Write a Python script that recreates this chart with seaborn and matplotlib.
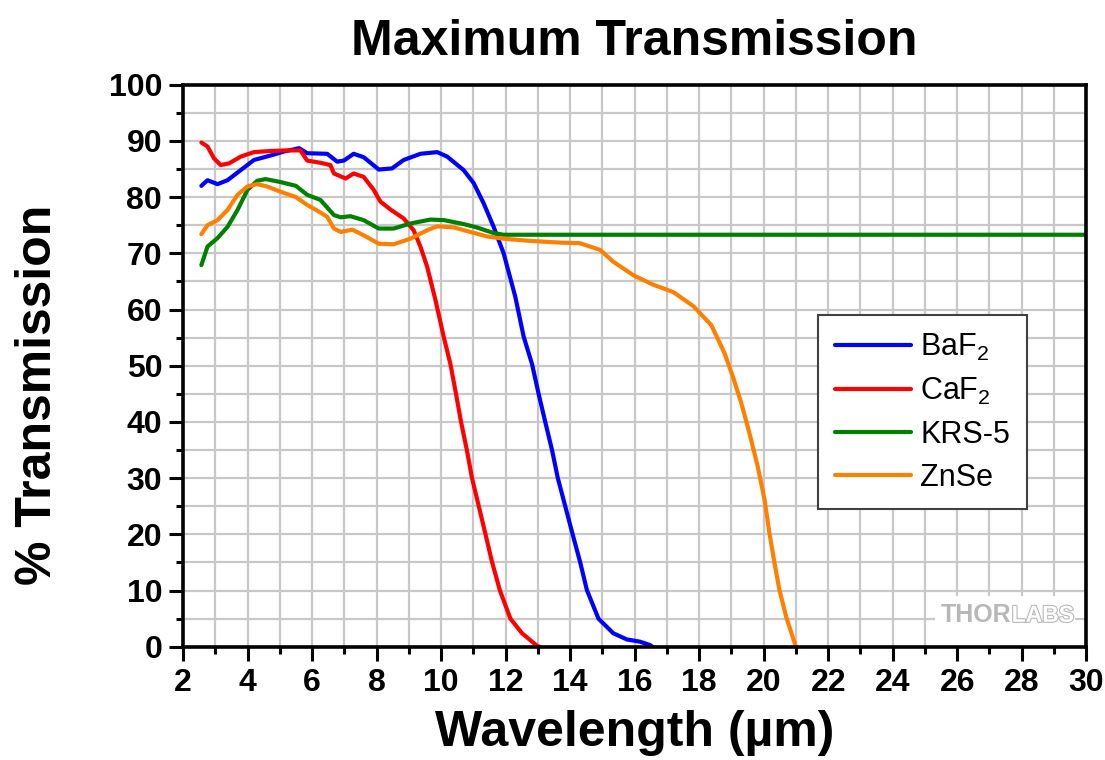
import numpy as np
import pandas as pd
import matplotlib
matplotlib.use("Agg")
import matplotlib.pyplot as plt
import matplotlib.patheffects as pe
from matplotlib.patches import Rectangle
from matplotlib.ticker import MultipleLocator
import seaborn as sns

# ---------------- data ----------------
baf2_x = [2.57, 2.76, 3.07, 3.38, 3.79, 4.20, 4.72, 5.13, 5.60, 5.85, 6.47, 6.78, 6.99, 7.29,
          7.60, 8.07, 8.48, 8.84, 9.36, 9.88, 10.19, 10.70, 11.01, 11.32, 11.63, 11.94, 12.30,
          12.56, 12.82, 13.02, 13.23, 13.44, 13.62, 13.85, 14.07, 14.31, 14.52, 14.88, 15.34,
          15.76, 16.17, 16.48, 16.55]
baf2_y = [82.0, 83.0, 82.3, 83.0, 84.8, 86.6, 87.4, 88.1, 88.7, 87.8, 87.7, 86.3, 86.5, 87.7,
          87.1, 84.9, 85.1, 86.6, 87.7, 88.0, 87.2, 84.8, 82.5, 78.9, 74.7, 70.0, 62.3,
          55.2, 50.3, 45.1, 40.0, 35.0, 30.0, 25.0, 20.2, 15.1, 10.1, 5.0, 2.4,
          1.3, 0.9, 0.3, 0.0]

caf2_x = [2.57, 2.76, 2.96, 3.17, 3.43, 3.79, 4.20, 4.72, 5.20, 5.64, 5.85, 6.26, 6.57, 6.68,
          7.04, 7.29, 7.60, 7.91, 8.12, 8.43, 8.84, 9.15, 9.36, 9.57, 9.83, 10.08, 10.29, 10.46,
          10.62, 10.80, 10.96, 11.17, 11.37, 11.58, 11.82, 12.15, 12.51, 12.97, 13.05]
caf2_y = [89.7, 89.0, 86.9, 85.7, 86.0, 87.2, 88.0, 88.2, 88.3, 88.3, 86.5, 86.1, 85.7, 84.2,
          83.3, 84.2, 83.6, 81.3, 79.2, 77.8, 76.2, 74.1, 71.2, 67.6, 61.6, 55.2, 50.3, 45.1,
          40.0, 35.0, 30.0, 25.0, 20.2, 15.1, 10.1, 5.0, 2.4, 0.2, 0.0]

krs5_x = [2.57, 2.76, 3.07, 3.38, 3.69, 4.00, 4.30, 4.56, 5.00, 5.50, 5.85, 6.26, 6.68, 6.89,
          7.19, 7.60, 8.07, 8.53, 9.05, 9.67, 10.09, 10.70, 11.11, 11.63, 11.94, 12.77, 20.0, 30.0]
krs5_y = [67.9, 71.2, 72.7, 74.7, 77.7, 81.3, 82.9, 83.2, 82.7, 82.0, 80.4, 79.5, 76.8, 76.4,
          76.6, 75.9, 74.4, 74.4, 75.3, 76.0, 75.9, 75.2, 74.6, 73.6, 73.3, 73.3, 73.3, 73.3]

znse_x = [2.57, 2.76, 3.07, 3.38, 3.69, 4.00, 4.30, 4.60, 5.00, 5.50, 5.85, 6.16, 6.47, 6.68,
          6.89, 7.25, 7.60, 8.07, 8.53, 9.05, 9.57, 9.88, 10.40, 10.91, 11.42, 11.94, 12.77,
          13.69, 14.30, 14.62, 14.93, 15.34, 15.96, 16.58, 17.20, 17.82, 18.38, 18.79, 19.05,
          19.31, 19.56, 19.82, 20.03, 20.18, 20.34, 20.49, 20.70, 21.00]
znse_y = [73.4, 75.0, 75.9, 77.7, 80.4, 81.9, 82.3, 81.9, 81.0, 80.0, 78.6, 77.6, 76.5, 74.4,
          73.8, 74.2, 73.2, 71.7, 71.6, 72.6, 74.1, 74.8, 74.6, 73.8, 73.0, 72.6, 72.2,
          71.9, 71.8, 71.2, 70.6, 68.5, 66.1, 64.4, 63.1, 60.6, 57.2, 52.2, 48.0,
          43.3, 38.0, 32.0, 26.1, 20.2, 14.8, 10.1, 5.3, 0.0]

materials = ["BaF$_2$", "CaF$_2$", "KRS-5", "ZnSe"]
colors = ["#0000ff", "#ff0000", "#008000", "#ff8000"]
series_x = [baf2_x, caf2_x, krs5_x, znse_x]
series_y = [baf2_y, caf2_y, krs5_y, znse_y]

x_ticks = list(range(2, 31, 2))
y_ticks = list(range(0, 101, 10))

title = "Maximum Transmission"
xlabel = "Wavelength (µm)"
ylabel = "% Transmission"

frames = []
for name, xs, ys in zip(materials, series_x, series_y):
    frames.append(pd.DataFrame({"Wavelength": xs, "Transmission": ys, "Material": name}))
df = pd.concat(frames, ignore_index=True)

# ---------------- style ----------------
sns.set_theme(style="white")
plt.rcParams["font.family"] = ["Liberation Sans", "DejaVu Sans"]
plt.rcParams["mathtext.default"] = "regular"
for key in ["text.color", "axes.labelcolor", "xtick.color", "ytick.color", "axes.edgecolor"]:
    plt.rcParams[key] = "black"

fig = plt.figure(figsize=(11.05, 7.6), dpi=100)
ax = fig.add_axes([0.1656, 0.149, 0.8174, 0.7396])

sns.lineplot(data=df, x="Wavelength", y="Transmission", hue="Material",
             hue_order=materials, palette=dict(zip(materials, colors)),
             estimator=None, sort=False, linewidth=3.0, ax=ax, legend=False)
for ln in ax.lines:
    ln.set_solid_joinstyle("round")
    ln.set_solid_capstyle("round")

ax.set_xlim(2, 30)
ax.set_ylim(0, 100)
ax.set_xticks(x_ticks)
ax.set_yticks(y_ticks)
ax.xaxis.set_minor_locator(MultipleLocator(1))
ax.yaxis.set_minor_locator(MultipleLocator(5))
ax.grid(True, which="both", color="#c8c8c8", linewidth=1.6, zorder=0)
ax.set_axisbelow(True)

for sp in ax.spines.values():
    sp.set_visible(True)
    sp.set_color("black")
    sp.set_linewidth(2.6)

ax.tick_params(axis="both", which="major", direction="out", length=10, width=2.2,
               color="black", labelcolor="black", labelsize=23, pad=5, bottom=True, left=True)
ax.tick_params(axis="both", which="minor", direction="out", length=5, width=2.2,
               color="black", bottom=True, left=True)
for lab in ax.get_xticklabels() + ax.get_yticklabels():
    lab.set_fontweight("bold")

ax.set_title(title, fontsize=36, fontweight="bold", pad=21, color="black")
ax.set_xlabel(xlabel, fontsize=36, fontweight="bold", color="black")
ax.set_ylabel(ylabel, fontsize=36, fontweight="bold", color="black")
ax.xaxis.set_label_coords(0.5, -0.113)
ax.yaxis.set_label_coords(-0.135, 0.448)

# legend
handles = [plt.Line2D([], [], color=c, linewidth=3.0) for c in colors]
leg = ax.legend(handles, materials, loc="upper left", bbox_to_anchor=(0.703, 0.590),
                borderaxespad=0, fontsize=22, frameon=True, fancybox=False,
                handlelength=2.5, handletextpad=0.3, labelspacing=0.42,
                borderpad=0.55, edgecolor="#404040", facecolor="white", framealpha=1)
leg.get_frame().set_linewidth(1.5)
for t in leg.get_texts():
    t.set_color("black")

# watermark
ax.add_patch(Rectangle((25.3, 0.3), 4.35, 8.7, facecolor="white", edgecolor="none", zorder=1.5))
thor = ax.text(25.5, 5.6, "THOR", fontsize=18, fontweight="bold", color="#b8b8b8",
               ha="left", va="center", zorder=3)
ax.annotate("LABS", xy=(1.0, 0.5), xycoords=thor, ha="left", va="center",
            fontsize=16.5, fontweight="bold", color="white", zorder=3,
            path_effects=[pe.withStroke(linewidth=1.6, foreground="#b8b8b8")])

fig.savefig("out.png", dpi=100)
